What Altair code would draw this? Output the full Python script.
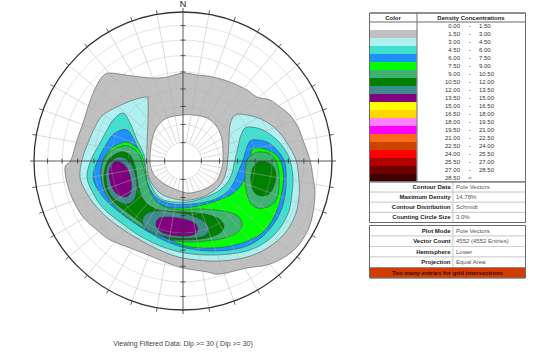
import altair as alt
import pandas as pd

NET_R = 149  # primitive circle radius in net units (x east, y north)

# ---------------- contour polygons (net units) ----------------
gray_1_5 = [(0,88),(-16,84),(-30,83),(-50,85),(-73,88),(-80,85),(-85,78),(-90,68),(-95,54),(-100,38),
            (-106,21),(-112,1),(-118,-6),(-116,-22),(-110,-39),(-100,-56),(-86,-69),(-73,-79),(-53,-87),
            (-40,-92),(-23,-99),(-10,-104),(0,-107),(24,-111),(37,-113),(64,-107),(84,-104),(100,-97),
            (114,-86),(125,-69),(130,-52),(132,-32),(130,-16),(127,1),(120,21),(115,34),(107,46),(97,54),
            (87,61),(74,64),(64,71),(47,79),(30,84),(14,86)]
hole_below_1_5 = [(0,46),(-16,43),(-26,34),(-31,21),(-33,1),(-30,-12),(-20,-22),(-6,-29),(7,-32),(24,-27),
                  (34,-19),(39,-6),(40,4),(39,21),(34,34),(24,43),(10,46)]
cyan_3_0 = [(-36,64),(-50,61),(-66,54),(-80,46),(-88,34),(-95,18),(-101,1),(-103,-16),(-98,-29),(-88,-44),
            (-73,-59),(-53,-73),(-30,-86),(-8,-95),(14,-99),(37,-100),(60,-97),(77,-91),(93,-81),(105,-68),
            (113,-52),(116,-36),(116,-19),(113,1),(104,18),(94,31),(80,41),(64,46),(52,46),(47,36),(46,21),
            (45,4),(43,-11),(37,-24),(24,-34),(7,-39),(-8,-38),(-23,-32),(-33,-19),(-36,-4),(-36,16),
            (-35,41),(-35,61)]
turq_4_5 = [(-60,48),(-70,41),(-76,31),(-83,18),(-92,1),(-96,-16),(-90,-32),(-80,-47),(-63,-61),(-43,-75),
            (-20,-86),(2,-92),(24,-94),(47,-93),(67,-89),(84,-80),(97,-67),(106,-50),(109,-32),(110,-16),
            (107,1),(102,11),(94,21),(80,31),(64,34),(58,26),(55,14),(52,1),(49,-12),(44,-22),(34,-31),
            (20,-37),(4,-41),(-16,-40),(-26,-34),(-33,-22),(-37,-9),(-39,6),(-46,21),(-53,38)]
blue_6_0 = [(-56,31),(-68,28),(-76,18),(-85,1),(-90,-16),(-83,-32),(-70,-46),(-53,-59),(-33,-72),(-13,-82),
            (7,-88),(27,-90),(47,-89),(64,-85),(79,-76),(92,-61),(100,-44),(103,-26),(103,-9),(101,1),
            (94,11),(84,19),(69,21),(64,14),(60,1),(56,-9),(52,-19),(44,-31),(30,-39),(10,-43),(-11,-43),
            (-26,-37),(-34,-26),(-39,-11),(-41,1),(-48,19)]
lime_7_5 = [(-58,19),(-71,13),(-79,3),(-82,-9),(-80,-24),(-73,-37),(-58,-51),(-38,-64),(-18,-76),(2,-85),
            (22,-87),(42,-86),(62,-81),(79,-72),(90,-58),(97,-40),(100,-24),(100,-9),(96,3),(87,10),
            (77,13),(69,11),(67,1),(64,-11),(59,-23),(49,-33),(33,-40),(15,-45),(0,-47),(-16,-46),
            (-28,-39),(-34,-28),(-37,-13),(-39,-1),(-43,10),(-50,16)]
mgreen_9_0_a = [(-61,15),(-73,9),(-80,-1),(-82,-14),(-79,-29),(-71,-42),(-56,-56),(-38,-68),(-18,-77),
                (2,-81),(22,-80),(42,-77),(55,-71),(59,-63),(55,-55),(45,-51),(32,-49),(17,-48),(0,-49),
                (-15,-47),(-26,-41),(-33,-30),(-37,-17),(-40,-4),(-44,7),(-52,14)]
mgreen_9_0_b = [(72,8),(64,1),(62,-14),(63,-29),(67,-41),(74,-47),(85,-46),(93,-39),(96,-27),(96,-12),
                (93,0),(87,7),(79,9)]
dgreen_10_5_a = [(-63,9),(-73,3),(-78,-7),(-79,-19),(-76,-31),(-68,-42),(-55,-52),(-41,-62),(-28,-71),
                 (-13,-78),(7,-79),(24,-77),(37,-72),(41,-65),(36,-58),(22,-53),(2,-51),(-18,-50),
                 (-33,-45),(-41,-36),(-45,-23),(-47,-9),(-51,3),(-56,8)]
dgreen_10_5_b = [(75,-1),(69,-9),(68,-21),(71,-31),(78,-35),(86,-33),(91,-25),(93,-14),(90,-5),(83,-1)]
teal_12_0_a = [(-65,4),(-75,-4),(-77,-17),(-74,-31),(-66,-40),(-55,-43),(-48,-37),(-46,-24),(-49,-9),(-55,1)]
teal_12_0_b = [(-33,-51),(-40,-57),(-38,-67),(-26,-73),(-8,-77),(12,-77),(24,-73),(25,-65),(17,-58),
               (2,-53),(-18,-50)]
purple_13_5_a = [(-70,-2),(-74,-11),(-72,-24),(-66,-33),(-57,-36),(-52,-30),(-52,-18),(-56,-7),(-63,-1)]
purple_13_5_b = [(-25,-58),(-27,-65),(-20,-72),(-5,-75),(10,-74),(15,-68),(10,-61),(-5,-57),(-18,-56)]

# ---------------- legend classes ----------------
class_breaks = [0.00, 1.50, 3.00, 4.50, 6.00, 7.50, 9.00, 10.50, 12.00, 13.50, 15.00, 16.50,
                18.00, 19.50, 21.00, 22.50, 24.00, 25.50, 27.00, 28.50]
class_colors = ["#ffffff", "#c0c0c0", "#b0f0f0", "#40e0d0", "#1e90ff", "#00ff00", "#3cb371",
                "#008000", "#3c8c8c", "#800080", "#ffff00", "#ffd700", "#ff80ff", "#ff00ff",
                "#ff6a1a", "#cc4400", "#ff0000", "#b00000", "#700000", "#400000"]

info1_labels = ["Contour Data", "Maximum Density", "Contour Distribution", "Counting Circle Size"]
info1_values = ["Pole Vectors", "14.78%", "Schmidt", "3.0%"]
info2_labels = ["Plot Mode", "Vector Count", "Hemisphere", "Projection"]
info2_values = ["Pole Vectors", "4552 (4552 Entries)", "Lower", "Equal Area"]
warning_text = "Too many entries for grid intersections"
footer_text = "Viewing Filtered Data: Dip >= 30 ( Dip >= 30)"

grid_plunges = [10, 20, 30, 40, 50, 60, 70, 80]
grid_azimuths = list(range(0, 360, 10))

# ---------------- styles ----------------
FONT = "Liberation Sans"
GRID = "#b0b0b0"
LINE = "#3c3c3c"

xs = alt.Scale(domain=[-183, 367], nice=False, zero=False)
ys = alt.Scale(domain=[-192, 161], nice=False, zero=False)


def X(f):
    return alt.X(f, scale=xs, axis=None)


def Y(f):
    return alt.Y(f, scale=ys, axis=None)


def poly_df(polys):
    rows = []
    for pid, pts in enumerate(polys):
        for i, (x, y) in enumerate(pts):
            rows.append({"poly": pid, "i": i, "x": x, "y": y})
    return pd.DataFrame(rows)


contour_levels = [
    ([gray_1_5], class_colors[1]),
    ([hole_below_1_5], class_colors[0]),
    ([cyan_3_0], class_colors[2]),
    ([turq_4_5], class_colors[3]),
    ([blue_6_0], class_colors[4]),
    ([lime_7_5], class_colors[5]),
    ([mgreen_9_0_a, mgreen_9_0_b], class_colors[6]),
    ([dgreen_10_5_a, dgreen_10_5_b], class_colors[7]),
    ([teal_12_0_a, teal_12_0_b], class_colors[8]),
    ([purple_13_5_a, purple_13_5_b], class_colors[9]),
]

layers = []
for polys, col in contour_levels:
    layers.append(
        alt.Chart(poly_df(polys)).mark_line(
            interpolate="cardinal-closed", fill=col, stroke=LINE, strokeWidth=0.5
        ).encode(x=X("x:Q"), y=Y("y:Q"), order="i:Q", detail="poly:N")
    )

RADIUS = f"{NET_R}*sqrt(2)*sin((90-datum.plunge)*PI/360)"

# concentric grid circles
size_scale = alt.Scale(type="pow", exponent=2, domain=[0, NET_R], range=[0, 4 * NET_R ** 2])
layers.append(
    alt.Chart(pd.DataFrame({"plunge": grid_plunges}))
    .transform_calculate(r=RADIUS, cx="0", cy="0")
    .mark_point(shape="circle", filled=False, stroke=GRID, strokeWidth=0.7, strokeOpacity=0.65)
    .encode(x=X("cx:Q"), y=Y("cy:Q"), size=alt.Size("r:Q", scale=size_scale, legend=None))
)

# radial grid lines
radial_az = [a for a in grid_azimuths if a % 90 != 0]
layers.append(
    alt.Chart(pd.DataFrame({"az": radial_az}))
    .transform_calculate(
        r0=f"{NET_R}*sqrt(2)*sin(10*PI/360)",
        xa="datum.r0*sin(datum.az*PI/180)", ya="datum.r0*cos(datum.az*PI/180)",
        xb=f"{NET_R}*sin(datum.az*PI/180)", yb=f"{NET_R}*cos(datum.az*PI/180)",
    )
    .mark_rule(stroke=GRID, strokeWidth=0.7, strokeOpacity=0.65)
    .encode(x=X("xa:Q"), y=Y("ya:Q"), x2="xb:Q", y2="yb:Q")
)

# N-S and E-W axes
layers.append(
    alt.Chart(pd.DataFrame({"az": [0, 90]}))
    .transform_calculate(
        xa=f"-({NET_R}+4)*sin(datum.az*PI/180)", ya=f"-({NET_R}+4)*cos(datum.az*PI/180)",
        xb=f"({NET_R}+4)*sin(datum.az*PI/180)", yb=f"({NET_R}+4)*cos(datum.az*PI/180)",
    )
    .mark_rule(stroke="#333333", strokeWidth=0.8)
    .encode(x=X("xa:Q"), y=Y("ya:Q"), x2="xb:Q", y2="yb:Q")
)

# ticks along the axes
axis_ticks = pd.DataFrame([{"plunge": p, "az": a} for p in grid_plunges for a in (0, 90, 180, 270)])
layers.append(
    alt.Chart(axis_ticks)
    .transform_calculate(r=RADIUS)
    .transform_calculate(
        xa="datum.r*sin(datum.az*PI/180) - 2.5*cos(datum.az*PI/180)",
        ya="datum.r*cos(datum.az*PI/180) + 2.5*sin(datum.az*PI/180)",
        xb="datum.r*sin(datum.az*PI/180) + 2.5*cos(datum.az*PI/180)",
        yb="datum.r*cos(datum.az*PI/180) - 2.5*sin(datum.az*PI/180)",
    )
    .mark_rule(stroke="#333333", strokeWidth=0.8)
    .encode(x=X("xa:Q"), y=Y("ya:Q"), x2="xb:Q", y2="yb:Q")
)

# primitive circle
layers.append(
    alt.Chart(pd.DataFrame({"r": [NET_R]}))
    .transform_calculate(cx="0", cy="0")
    .mark_point(shape="circle", filled=False, stroke="#333333", strokeWidth=1.3, opacity=1)
    .encode(x=X("cx:Q"), y=Y("cy:Q"), size=alt.Size("r:Q", scale=size_scale, legend=None))
)

# ticks on the primitive circle
layers.append(
    alt.Chart(pd.DataFrame({"az": radial_az}))
    .transform_calculate(
        xa=f"{NET_R}*sin(datum.az*PI/180)", ya=f"{NET_R}*cos(datum.az*PI/180)",
        xb=f"({NET_R}+4)*sin(datum.az*PI/180)", yb=f"({NET_R}+4)*cos(datum.az*PI/180)",
    )
    .mark_rule(stroke="#333333", strokeWidth=0.8)
    .encode(x=X("xa:Q"), y=Y("ya:Q"), x2="xb:Q", y2="yb:Q")
)

# North label and footer
layers.append(
    alt.Chart(pd.DataFrame({"t": ["N"], "x": [0], "y": [NET_R + 3]}))
    .mark_text(baseline="bottom", fontSize=9, font=FONT, color="#222222")
    .encode(x=X("x:Q"), y=Y("y:Q"), text="t:N")
)
layers.append(
    alt.Chart(pd.DataFrame({"t": [footer_text], "x": [0], "y": [-183]}))
    .mark_text(baseline="middle", fontSize=7, font=FONT, color="#444444")
    .encode(x=X("x:Q"), y=Y("y:Q"), text="t:N")
)

# ---------------- legend / info tables ----------------
TX0, TXC, TXI, TX1 = 369.5, 417, 453, 525.5
TBL = "#8a8a8a"

cls = pd.DataFrame({
    "row": [f"c{i}" for i in range(len(class_breaks))],
    "lo": [f"{v:.2f}" for v in class_breaks],
    "sep": ["-"] * (len(class_breaks) - 1) + ["<"],
    "hi": [f"{v:.2f}" for v in class_breaks[1:]] + [""],
    "color": class_colors,
})
cy_ = alt.Y("row:N", axis=None, sort=None,
            scale=alt.Scale(domain=list(cls["row"]), range=[22, 182], paddingInner=0, paddingOuter=0))
base_c = alt.Chart(cls)
layers += [
    base_c.mark_rect().encode(x=alt.value(TX0), x2=alt.value(TXC), y=cy_,
                              fill=alt.Fill("color:N", scale=None)),
    base_c.mark_text(align="right", fontSize=6, font=FONT, color="#333333").encode(
        x=alt.value(460), y=cy_, text="lo:N"),
    base_c.mark_text(align="center", fontSize=6, font=FONT, color="#333333").encode(
        x=alt.value(470), y=cy_, text="sep:N"),
    base_c.mark_text(align="left", fontSize=6, font=FONT, color="#333333").encode(
        x=alt.value(479), y=cy_, text="hi:N"),
]
hdr = pd.DataFrame({"t": ["Color", "Density Concentrations"], "x": [393, 471]})
layers += [
    alt.Chart(hdr).mark_text(fontSize=6, font=FONT, fontWeight="bold", color="#222222").encode(
        x=alt.X("x:Q", scale=alt.Scale(domain=[0, 550], range=[0, 550]), axis=None),
        y=alt.value(17.5), text="t:N"),
    alt.Chart(hdr).mark_rule(stroke=TBL, strokeWidth=0.8).encode(
        x=alt.value(TX0), x2=alt.value(TX1), y=alt.value(22)),
    alt.Chart(hdr).mark_rule(stroke=TBL, strokeWidth=0.8).encode(
        x=alt.value(TXC), y=alt.value(13), y2=alt.value(182)),
    alt.Chart(hdr).mark_rect(fillOpacity=0, stroke="#6a6a6a", strokeWidth=1).encode(
        x=alt.value(TX0), x2=alt.value(TX1), y=alt.value(13), y2=alt.value(182)),
]


def info_table(labels, values, rng, warn=None):
    rows = [f"r{i}" for i in range(len(labels))]
    dom = rows + (["warn"] if warn else [])
    df = pd.DataFrame({"row": rows, "label": labels, "value": values})
    yy = alt.Y("row:N", axis=None, sort=None,
               scale=alt.Scale(domain=dom, range=rng, paddingInner=0, paddingOuter=0))
    b = alt.Chart(df)
    out = [
        b.mark_rect(fill="#ffffff", stroke="#c8c8c8", strokeWidth=0.8).encode(
            x=alt.value(TX0), x2=alt.value(TXI), y=yy),
        b.mark_rect(fill="#ffffff", stroke="#c8c8c8", strokeWidth=0.8).encode(
            x=alt.value(TXI), x2=alt.value(TX1), y=yy),
        b.mark_text(align="right", fontSize=6, font=FONT, fontWeight="bold", color="#222222").encode(
            x=alt.value(TXI - 2.5), y=yy, text="label:N"),
        b.mark_text(align="left", fontSize=6, font=FONT, color="#555555").encode(
            x=alt.value(TXI + 3), y=yy, text="value:N"),
    ]
    if warn:
        w = alt.Chart(pd.DataFrame({"row": ["warn"], "t": [warn]}))
        out += [
            w.mark_rect(fill="#d23c00", stroke="#8a8a8a", strokeWidth=0.8).encode(
                x=alt.value(TX0), x2=alt.value(TX1), y=yy),
            w.mark_text(align="center", fontSize=6, font=FONT, fontWeight="bold", color="#3a0800").encode(
                x=alt.value((TX0 + TX1) / 2), y=yy, text="t:N"),
        ]
    out.append(
        alt.Chart(pd.DataFrame({"a": [0]})).mark_rect(fillOpacity=0, stroke="#6a6a6a", strokeWidth=1).encode(
            x=alt.value(TX0), x2=alt.value(TX1), y=alt.value(rng[0]), y2=alt.value(rng[1])))
    return out


layers += info_table(info1_labels, info1_values, [182, 222.5])
layers += info_table(info2_labels, info2_values, [225.5, 278], warn=warning_text)

chart = (
    alt.layer(*layers)
    .resolve_scale(x="independent", y="independent", size="independent", fill="independent")
    .properties(width=550, height=353, padding=0, autosize=alt.AutoSizeParams(type="none"),
                background="#ffffff")
    .configure_view(stroke=None)
)

chart.save("out.html", embed_options={"renderer": "svg", "actions": False})
